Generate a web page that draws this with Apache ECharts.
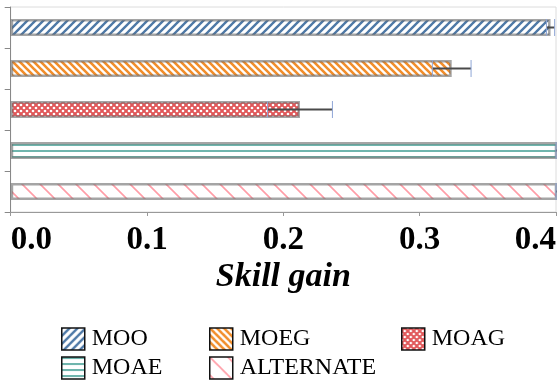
<!DOCTYPE html>
<html>
<head>
<meta charset="utf-8">
<script src="https://cdn.jsdelivr.net/npm/echarts@6/dist/echarts.min.js"></script>
<style>
html,body{margin:0;padding:0;background:#fff;}
#chart{width:557px;height:385px;}
</style>
</head>
<body>
<div id="chart"></div>
<script>
// ---- data ----
const categories = ['MOO', 'MOEG', 'MOAG', 'MOAE', 'ALTERNATE'];
const means = [0.396, 0.3235, 0.2122, 0.43, 0.43];
const errors = [0.003, 0.0142, 0.0238, 0.03, 0.03];
const xTicks = [0.0, 0.1, 0.2, 0.3, 0.4];
const colors = ['#4e79a7', '#f28e2b', '#e15759', '#6fb5ad', '#ff9da7'];

// ---- patterns ----
function makeCanvas(w, h, draw) {
  const c = document.createElement('canvas');
  c.width = w; c.height = h;
  const ctx = c.getContext('2d');
  ctx.fillStyle = '#fff';
  ctx.fillRect(0, 0, w, h);
  draw(ctx, w, h);
  return c;
}
function diag(color, s, lw, forward) {
  return makeCanvas(s, s, (ctx) => {
    ctx.strokeStyle = color; ctx.lineWidth = lw; ctx.lineCap = 'square';
    ctx.beginPath();
    for (let k = -1; k <= 1; k++) {
      if (forward) { ctx.moveTo(k * s, s); ctx.lineTo(k * s + s, 0); }
      else { ctx.moveTo(k * s, 0); ctx.lineTo(k * s + s, s); }
    }
    ctx.stroke();
  });
}
function horiz(color, s, lw) {
  return makeCanvas(8, s, (ctx) => {
    ctx.fillStyle = color; ctx.fillRect(0, 0, 8, lw);
  });
}
function dots(color) {
  return makeCanvas(6, 6, (ctx, w, h) => {
    ctx.fillStyle = color; ctx.fillRect(0, 0, w, h);
    ctx.fillStyle = '#fff';
    const pts = [[0,0],[6,0],[0,6],[6,6],[3,3]];
    pts.forEach(p => { ctx.beginPath(); ctx.arc(p[0], p[1], 1.35, 0, Math.PI * 2); ctx.fill(); });
  });
}
const patterns = [
  diag(colors[0], 8, 2.4, true),
  diag(colors[1], 7, 2.6, false),
  dots(colors[2]),
  horiz(colors[3], 6, 2),
  diag(colors[4], 18, 1.6, false)
];

const barSeries = categories.map((name, i) => ({
  name: name,
  type: 'bar',
  barWidth: 17,
  barGap: '-100%',
  data: categories.map((c, j) => (j === i ? means[i] : '-')),
  itemStyle: {
    color: { image: patterns[i], repeat: 'repeat' },
    borderColor: 'rgba(105,105,105,0.6)',
    borderWidth: 2.5
  },
  emphasis: { disabled: true },
  z: 2
}));

const errData = categories.map((c, i) => [means[i] - errors[i], means[i] + errors[i], i]);

const errSeries = {
  type: 'custom',
  name: 'err',
  clip: true,
  z: 5,
  encode: { x: [0, 1], y: 2 },
  data: errData,
  renderItem: function (params, api) {
    const lo = api.coord([api.value(0), api.value(2)]);
    const hi = api.coord([api.value(1), api.value(2)]);
    const h = 8.5;
    return {
      type: 'group',
      children: [
        { type: 'line', shape: { x1: lo[0], y1: lo[1], x2: hi[0], y2: hi[1] }, style: { stroke: '#4a4a4a', lineWidth: 2 } },
        { type: 'line', shape: { x1: lo[0], y1: lo[1] - h, x2: lo[0], y2: lo[1] + h }, style: { stroke: '#8fa6d6', lineWidth: 1 } },
        { type: 'line', shape: { x1: hi[0], y1: hi[1] - h, x2: hi[0], y2: hi[1] + h }, style: { stroke: '#8fa6d6', lineWidth: 1 } }
      ]
    };
  }
};

const legendPos = [
  [61, 327], [209, 327], [401, 327],
  [61, 356], [209, 356]
];
const legends = categories.map((name, i) => ({
  data: [name],
  left: legendPos[i][0],
  top: legendPos[i][1],
  padding: 0,
  itemWidth: 23,
  itemHeight: 22,
  icon: 'rect',
  selectedMode: false,
  itemStyle: { borderColor: '#111', borderWidth: 1.5 },
  textStyle: { fontFamily: 'Liberation Serif', fontSize: 24, color: '#000', padding: [0, 0, 0, 2] }
}));

const chart = echarts.init(document.getElementById('chart'), null, { renderer: 'canvas' });
chart.setOption({
  animation: false,
  backgroundColor: '#fff',
  grid: {
    left: 10.7, right: 1, top: 7, bottom: 173,
    show: true, borderColor: '#dcdcdc', borderWidth: 1,
    outerBoundsMode: 'none', containLabel: false
  },
  legend: legends,
  xAxis: {
    type: 'value',
    min: 0, max: 0.4, interval: 0.1,
    name: 'Skill gain',
    nameLocation: 'middle',
    nameGap: 48,
    nameMoveOverlap: false,
    nameTextStyle: { fontFamily: 'Liberation Serif', fontSize: 34, fontWeight: 'bold', fontStyle: 'italic', color: '#000' },
    axisLine: { show: true, lineStyle: { color: '#999', width: 1 } },
    axisTick: { show: true, inside: false, length: 4, lineStyle: { color: '#999' } },
    splitLine: { show: false },
    axisLabel: {
      margin: 12,
      fontFamily: 'Liberation Serif', fontSize: 33, fontWeight: 'bold', color: '#000',
      formatter: v => v.toFixed(1),
      alignMinLabel: 'left', alignMaxLabel: 'right',
      showMinLabel: true, showMaxLabel: true
    }
  },
  yAxis: {
    type: 'category',
    data: categories,
    inverse: true,
    axisLine: { show: true, lineStyle: { color: '#888', width: 1 } },
    axisTick: { show: true, length: 6, lineStyle: { color: '#888' } },
    axisLabel: { show: false },
    splitLine: { show: false }
  },
  series: barSeries.concat([errSeries])
});
</script>
</body>
</html>
